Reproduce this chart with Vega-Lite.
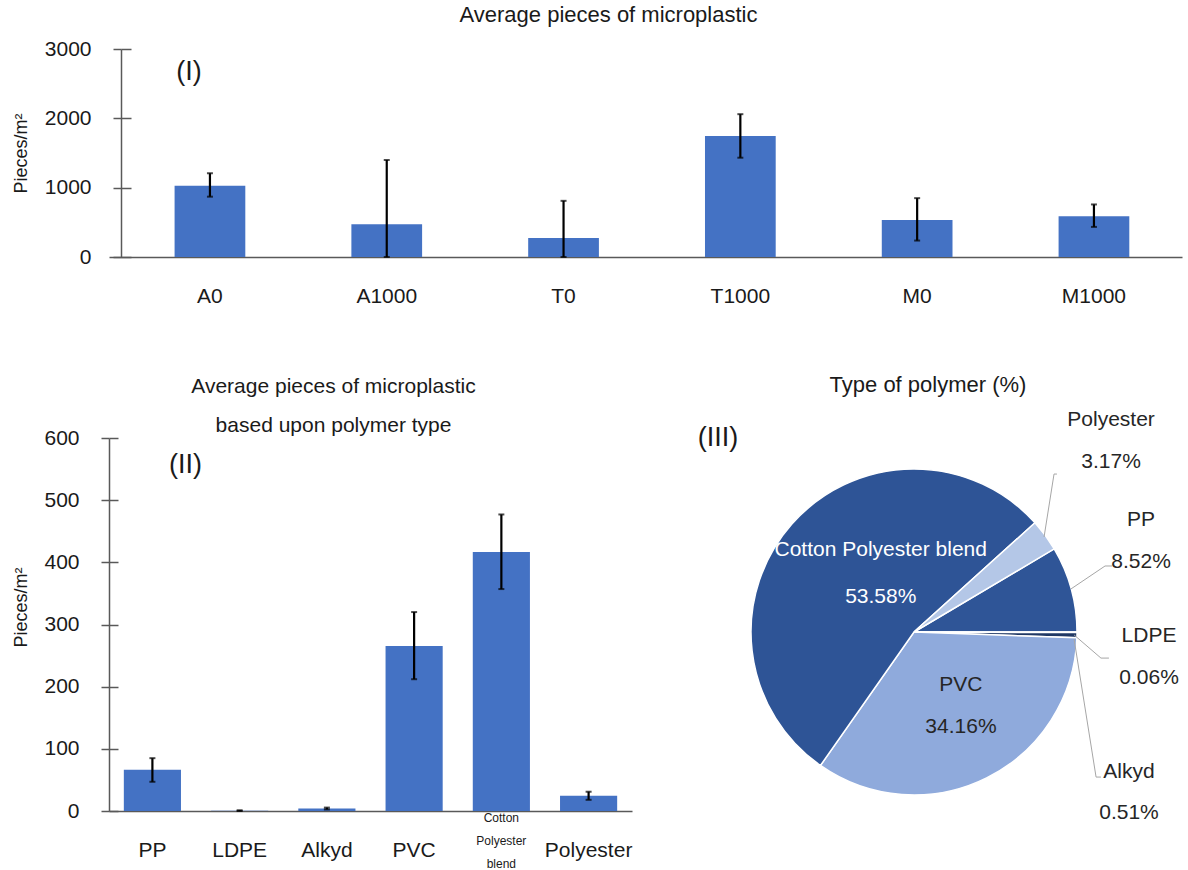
{
  "$schema": "https://vega.github.io/schema/vega-lite/v6.json",
  "autosize": {"type": "pad"},
  "padding": {"left": 11, "top": 4, "right": 0, "bottom": 0},
  "background": "white",
  "config": {
    "font": "Liberation Sans",
    "view": {"stroke": null},
    "axis": {"labelFont": "Liberation Sans", "titleFont": "Liberation Sans", "labelColor": "#1a1a1a", "titleColor": "#1a1a1a", "domainColor": "#595959", "tickColor": "#595959", "domainWidth": 1.5, "tickWidth": 1.5, "titleFontWeight": "normal"},
    "title": {"font": "Liberation Sans", "fontWeight": "normal", "color": "#1a1a1a"},
    "text": {"font": "Liberation Sans"}
  },
  "datasets": {
    "site": [
      {"site": "A0", "mean": 1027, "lo": 870, "hi": 1208},
      {"site": "A1000", "mean": 473, "lo": 0, "hi": 1399},
      {"site": "T0", "mean": 275, "lo": 0, "hi": 810},
      {"site": "T1000", "mean": 1746, "lo": 1432, "hi": 2060},
      {"site": "M0", "mean": 535, "lo": 237, "hi": 849},
      {"site": "M1000", "mean": 589, "lo": 434, "hi": 758}
    ],
    "polymer": [
      {"polymer": "PP", "mean": 66.2, "lo": 47, "hi": 85, "pct": 8.52},
      {"polymer": "LDPE", "mean": 0.47, "lo": 0, "hi": 1.2, "pct": 0.06},
      {"polymer": "Alkyd", "mean": 3.97, "lo": 2.5, "hi": 5.5, "pct": 0.51},
      {"polymer": "PVC", "mean": 265.6, "lo": 212, "hi": 320, "pct": 34.16},
      {"polymer": "Cotton Polyester blend", "mean": 416.6, "lo": 357, "hi": 477, "pct": 53.58},
      {"polymer": "Polyester", "mean": 24.6, "lo": 18, "hi": 31, "pct": 3.17}
    ]
  },
  "spacing": 67,
  "vconcat": [
    {
      "width": 1073,
      "height": 208,
      "title": {"text": "Average pieces of microplastic", "fontSize": 22, "anchor": "middle", "frame": "group", "dx": -37, "offset": 1, "baseline": "middle"},
      "layer": [
        {
          "data": {"name": "site"},
          "mark": {"type": "bar", "color": "#4472C4"},
          "encoding": {
            "x": {"field": "site", "type": "nominal", "sort": null, "title": null,
              "scale": {"domain": ["A0", "A1000", "T0", "T1000", "M0", "M1000"], "paddingInner": 0.6, "paddingOuter": 0.3345, "align": 0.5545},
              "axis": {"labelAngle": 0, "ticks": false, "tickSize": 0, "labelFontSize": 21, "labelPadding": 39, "labelBaseline": "middle"}},
            "y": {"field": "mean", "type": "quantitative", "title": "Pieces/m²",
              "scale": {"domain": [0, 3000], "nice": false},
              "axis": {"values": [0, 1000, 2000, 3000], "format": "d", "offset": -12, "labelFontSize": 21, "tickSize": 8, "labelPadding": 22, "titleFontSize": 18, "titleAngle": -90, "titleX": -100, "titleY": 104, "titleBaseline": "middle", "titleAlign": "center", "grid": true, "gridDash": [0, 12, 10, 4000], "gridColor": "#595959", "gridWidth": 1.5}}
          }
        },
        {
          "data": {"name": "site"},
          "mark": {"type": "errorbar", "ticks": {"size": 6, "thickness": 2, "color": "#000000"}, "rule": {"strokeWidth": 2.2, "color": "#000000"}},
          "encoding": {
            "x": {"field": "site", "type": "nominal", "sort": null},
            "y": {"field": "lo", "type": "quantitative", "title": "Pieces/m²"},
            "y2": {"field": "hi"}
          }
        },
        {
          "data": {"values": [{}]},
          "mark": {"type": "text", "text": "(I)", "fontSize": 27, "dx": -21, "color": "#1a1a1a"},
          "encoding": {"x": {"datum": "A0"}, "y": {"datum": 2672}}
        }
      ]
    },
    {
      "bounds": "flush",
      "spacing": 2,
      "hconcat": [
        {
          "width": 523,
          "height": 373,
          "title": {"text": ["Average pieces of microplastic", "based upon polymer type"], "fontSize": 21, "lineHeight": 39, "anchor": "middle", "frame": "group", "dx": -37, "offset": -20, "baseline": "middle"},
          "layer": [
            {
              "data": {"name": "polymer"},
              "mark": {"type": "bar", "color": "#4472C4"},
              "encoding": {
                "x": {"field": "polymer", "type": "nominal", "sort": null, "title": null,
                  "scale": {"domain": ["PP", "LDPE", "Alkyd", "PVC", "Cotton Polyester blend", "Polyester"], "paddingInner": 0.345, "paddingOuter": 0.17},
                  "axis": {"labelAngle": 0, "ticks": false, "tickSize": 0, "labelBaseline": "middle", "labelLineHeight": 23,
                    "labelExpr": "datum.value === 'Cotton Polyester blend' ? ['Cotton', 'Polyester', 'blend'] : datum.label",
                    "labelFontSize": {"condition": {"test": "datum.value === 'Cotton Polyester blend'", "value": 12}, "value": 21},
                    "labelPadding": {"condition": {"test": "datum.value === 'Cotton Polyester blend'", "value": 6}, "value": 39}}},
                "y": {"field": "mean", "type": "quantitative", "title": "Pieces/m²",
                  "scale": {"domain": [0, 600], "nice": false},
                  "axis": {"values": [0, 100, 200, 300, 400, 500, 600], "format": "d", "labelFontSize": 21, "tickSize": 8, "labelPadding": 22, "titleFontSize": 18, "titleAngle": -90, "titleX": -88, "titleY": 169, "titleBaseline": "middle", "titleAlign": "center", "grid": true, "gridDash": [9, 4000], "gridColor": "#595959", "gridWidth": 1.5}}
              }
            },
            {
              "data": {"name": "polymer"},
              "mark": {"type": "errorbar", "ticks": {"size": 6, "thickness": 2, "color": "#000000"}, "rule": {"strokeWidth": 2.2, "color": "#000000"}},
              "encoding": {
                "x": {"field": "polymer", "type": "nominal", "sort": null},
                "y": {"field": "lo", "type": "quantitative", "title": "Pieces/m²"},
                "y2": {"field": "hi"}
              }
            },
            {
              "data": {"values": [{}]},
              "mark": {"type": "text", "text": "(II)", "fontSize": 27, "dx": 33, "color": "#1a1a1a"},
              "encoding": {"x": {"datum": "PP"}, "y": {"datum": 557}}
            }
          ]
        },
        {
          "width": 560,
          "height": 388,
          "title": {"text": "Type of polymer (%)", "fontSize": 22, "anchor": "middle", "frame": "group", "dx": 14, "offset": 2, "baseline": "middle"},
          "layer": [
            {
              "data": {"name": "polymer"},
              "transform": [{"window": [{"op": "row_number", "as": "rank"}]}],
              "mark": {"type": "arc", "radius": 163, "stroke": "white", "strokeWidth": 1.5},
              "encoding": {
                "theta": {"field": "pct", "type": "quantitative", "stack": true, "scale": {"range": [1.03547, 7.31866]}},
                "order": {"field": "rank", "type": "quantitative"},
                "color": {"field": "polymer", "type": "nominal", "legend": null,
                  "scale": {"domain": ["PP", "LDPE", "Alkyd", "PVC", "Cotton Polyester blend", "Polyester"], "range": ["#2F5597", "#4472C4", "#203864", "#8FAADC", "#2E5496", "#B4C7E7"]}}
              }
            },
            {
              "data": {"values": [{}]},
              "mark": {"type": "rule", "color": "#a6a6a6", "strokeWidth": 1},
              "encoding": {
                "x": {"datum": 0.798, "type": "quantitative", "scale": {"domain": [-1.7178, 1.7178], "nice": false, "zero": false}, "axis": null},
                "y": {"datum": 0.583, "type": "quantitative", "scale": {"domain": [-1.1902, 1.1902], "nice": false, "zero": false}, "axis": null},
                "x2": {"datum": 0.859}, "y2": {"datum": 0.969}
              }
            },
            {
              "data": {"values": [{}]},
              "mark": {"type": "rule", "color": "#a6a6a6", "strokeWidth": 1},
              "encoding": {
                "x": {"datum": 0.859, "type": "quantitative", "scale": {"domain": [-1.7178, 1.7178], "nice": false, "zero": false}, "axis": null},
                "y": {"datum": 0.969, "type": "quantitative", "scale": {"domain": [-1.1902, 1.1902], "nice": false, "zero": false}, "axis": null},
                "x2": {"datum": 0.877}, "y2": {"datum": 0.969}
              }
            },
            {
              "data": {"values": [{}]},
              "mark": {"type": "rule", "color": "#a6a6a6", "strokeWidth": 1},
              "encoding": {
                "x": {"datum": 0.963, "type": "quantitative", "scale": {"domain": [-1.7178, 1.7178], "nice": false, "zero": false}, "axis": null},
                "y": {"datum": 0.264, "type": "quantitative", "scale": {"domain": [-1.1902, 1.1902], "nice": false, "zero": false}, "axis": null},
                "x2": {"datum": 1.172}, "y2": {"datum": 0.405}
              }
            },
            {
              "data": {"values": [{}]},
              "mark": {"type": "rule", "color": "#a6a6a6", "strokeWidth": 1},
              "encoding": {
                "x": {"datum": 1.172, "type": "quantitative", "scale": {"domain": [-1.7178, 1.7178], "nice": false, "zero": false}, "axis": null},
                "y": {"datum": 0.405, "type": "quantitative", "scale": {"domain": [-1.1902, 1.1902], "nice": false, "zero": false}, "axis": null},
                "x2": {"datum": 1.215}, "y2": {"datum": 0.405}
              }
            },
            {
              "data": {"values": [{}]},
              "mark": {"type": "rule", "color": "#a6a6a6", "strokeWidth": 1},
              "encoding": {
                "x": {"datum": 0.982, "type": "quantitative", "scale": {"domain": [-1.7178, 1.7178], "nice": false, "zero": false}, "axis": null},
                "y": {"datum": -0.018, "type": "quantitative", "scale": {"domain": [-1.1902, 1.1902], "nice": false, "zero": false}, "axis": null},
                "x2": {"datum": 1.147}, "y2": {"datum": -0.16}
              }
            },
            {
              "data": {"values": [{}]},
              "mark": {"type": "rule", "color": "#a6a6a6", "strokeWidth": 1},
              "encoding": {
                "x": {"datum": 1.147, "type": "quantitative", "scale": {"domain": [-1.7178, 1.7178], "nice": false, "zero": false}, "axis": null},
                "y": {"datum": -0.16, "type": "quantitative", "scale": {"domain": [-1.1902, 1.1902], "nice": false, "zero": false}, "axis": null},
                "x2": {"datum": 1.196}, "y2": {"datum": -0.16}
              }
            },
            {
              "data": {"values": [{}]},
              "mark": {"type": "rule", "color": "#a6a6a6", "strokeWidth": 1},
              "encoding": {
                "x": {"datum": 0.982, "type": "quantitative", "scale": {"domain": [-1.7178, 1.7178], "nice": false, "zero": false}, "axis": null},
                "y": {"datum": -0.043, "type": "quantitative", "scale": {"domain": [-1.1902, 1.1902], "nice": false, "zero": false}, "axis": null},
                "x2": {"datum": 1.117}, "y2": {"datum": -0.89}
              }
            },
            {
              "data": {"values": [{}]},
              "mark": {"type": "rule", "color": "#a6a6a6", "strokeWidth": 1},
              "encoding": {
                "x": {"datum": 1.117, "type": "quantitative", "scale": {"domain": [-1.7178, 1.7178], "nice": false, "zero": false}, "axis": null},
                "y": {"datum": -0.89, "type": "quantitative", "scale": {"domain": [-1.1902, 1.1902], "nice": false, "zero": false}, "axis": null},
                "x2": {"datum": 1.147}, "y2": {"datum": -0.89}
              }
            },
            {
              "data": {"name": "polymer"},
              "transform": [{"filter": "datum.polymer === 'Cotton Polyester blend'"}, {"calculate": "[datum.polymer, format(datum.pct, '.2f') + '%']", "as": "lab"}],
              "mark": {"type": "text", "fontSize": 21, "lineHeight": 47, "color": "#ffffff", "baseline": "middle"},
              "encoding": {
                "x": {"datum": -0.204, "type": "quantitative", "scale": {"domain": [-1.7178, 1.7178], "nice": false, "zero": false}, "axis": null},
                "y": {"datum": 0.503, "type": "quantitative", "scale": {"domain": [-1.1902, 1.1902], "nice": false, "zero": false}, "axis": null},
                "text": {"field": "lab"}
              }
            },
            {
              "data": {"name": "polymer"},
              "transform": [{"filter": "datum.polymer === 'PVC'"}, {"calculate": "[datum.polymer, format(datum.pct, '.2f') + '%']", "as": "lab"}],
              "mark": {"type": "text", "fontSize": 21, "lineHeight": 42, "color": "#262626", "baseline": "middle"},
              "encoding": {
                "x": {"datum": 0.288, "type": "quantitative", "scale": {"domain": [-1.7178, 1.7178], "nice": false, "zero": false}, "axis": null},
                "y": {"datum": -0.325, "type": "quantitative", "scale": {"domain": [-1.1902, 1.1902], "nice": false, "zero": false}, "axis": null},
                "text": {"field": "lab"}
              }
            },
            {
              "data": {"name": "polymer"},
              "transform": [{"filter": "datum.polymer === 'Polyester'"}, {"calculate": "[datum.polymer, format(datum.pct, '.2f') + '%']", "as": "lab"}],
              "mark": {"type": "text", "fontSize": 21, "lineHeight": 42, "color": "#262626", "baseline": "middle"},
              "encoding": {
                "x": {"datum": 1.209, "type": "quantitative", "scale": {"domain": [-1.7178, 1.7178], "nice": false, "zero": false}, "axis": null},
                "y": {"datum": 1.301, "type": "quantitative", "scale": {"domain": [-1.1902, 1.1902], "nice": false, "zero": false}, "axis": null},
                "text": {"field": "lab"}
              }
            },
            {
              "data": {"name": "polymer"},
              "transform": [{"filter": "datum.polymer === 'PP'"}, {"calculate": "[datum.polymer, format(datum.pct, '.2f') + '%']", "as": "lab"}],
              "mark": {"type": "text", "fontSize": 21, "lineHeight": 42, "color": "#262626", "baseline": "middle"},
              "encoding": {
                "x": {"datum": 1.393, "type": "quantitative", "scale": {"domain": [-1.7178, 1.7178], "nice": false, "zero": false}, "axis": null},
                "y": {"datum": 0.687, "type": "quantitative", "scale": {"domain": [-1.1902, 1.1902], "nice": false, "zero": false}, "axis": null},
                "text": {"field": "lab"}
              }
            },
            {
              "data": {"name": "polymer"},
              "transform": [{"filter": "datum.polymer === 'LDPE'"}, {"calculate": "[datum.polymer, format(datum.pct, '.2f') + '%']", "as": "lab"}],
              "mark": {"type": "text", "fontSize": 21, "lineHeight": 42, "color": "#262626", "baseline": "middle"},
              "encoding": {
                "x": {"datum": 1.442, "type": "quantitative", "scale": {"domain": [-1.7178, 1.7178], "nice": false, "zero": false}, "axis": null},
                "y": {"datum": -0.025, "type": "quantitative", "scale": {"domain": [-1.1902, 1.1902], "nice": false, "zero": false}, "axis": null},
                "text": {"field": "lab"}
              }
            },
            {
              "data": {"name": "polymer"},
              "transform": [{"filter": "datum.polymer === 'Alkyd'"}, {"calculate": "[datum.polymer, format(datum.pct, '.2f') + '%']", "as": "lab"}],
              "mark": {"type": "text", "fontSize": 21, "lineHeight": 41, "color": "#262626", "baseline": "middle"},
              "encoding": {
                "x": {"datum": 1.319, "type": "quantitative", "scale": {"domain": [-1.7178, 1.7178], "nice": false, "zero": false}, "axis": null},
                "y": {"datum": -0.859, "type": "quantitative", "scale": {"domain": [-1.1902, 1.1902], "nice": false, "zero": false}, "axis": null},
                "text": {"field": "lab"}
              }
            },
            {
              "data": {"values": [{}]},
              "mark": {"type": "text", "text": "(III)", "fontSize": 27, "color": "#1a1a1a", "baseline": "middle"},
              "encoding": {
                "x": {"datum": -1.202, "type": "quantitative", "scale": {"domain": [-1.7178, 1.7178], "nice": false, "zero": false}, "axis": null},
                "y": {"datum": 1.19, "type": "quantitative", "scale": {"domain": [-1.1902, 1.1902], "nice": false, "zero": false}, "axis": null}
              }
            }
          ]
        }
      ]
    }
  ]
}
